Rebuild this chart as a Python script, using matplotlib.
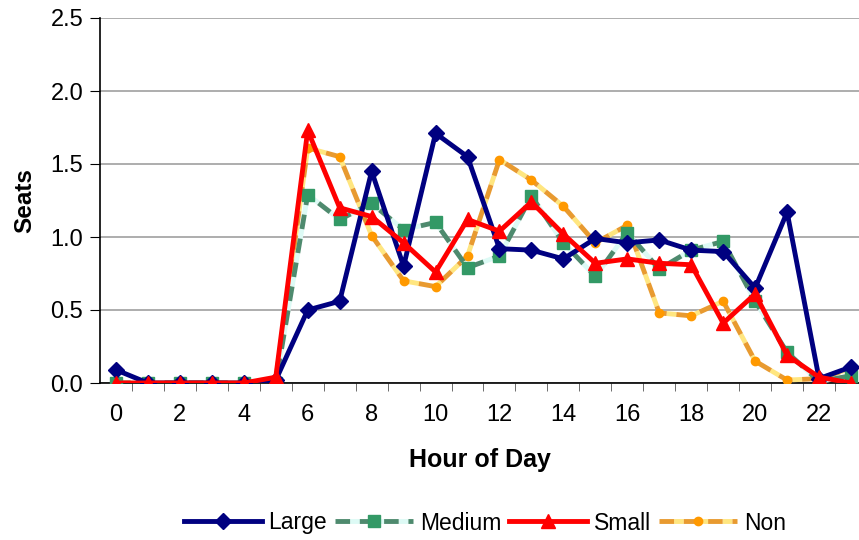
import matplotlib
matplotlib.use("Agg")
import matplotlib.pyplot as plt
import numpy as np

plt.rcParams['font.family'] = ['Liberation Sans', 'DejaVu Sans']

hours = list(range(24))
large = [0.09, 0.0, 0.0, 0.0, 0.0, 0.02, 0.50, 0.56, 1.45, 0.80, 1.71, 1.55, 0.92, 0.91, 0.85, 0.99,
         0.96, 0.98, 0.91, 0.90, 0.65, 1.17, 0.03, 0.11]
medium = [0.0, 0.0, 0.0, 0.0, 0.0, 0.0, 1.29, 1.12, 1.23, 1.05, 1.10, 0.79, 0.87, 1.28, 0.96, 0.73,
          1.03, 0.78, 0.91, 0.97, 0.56, 0.21, 0.01, 0.05]
small = [0.0, 0.0, 0.0, 0.0, 0.0, 0.04, 1.73, 1.20, 1.14, 0.96, 0.76, 1.12, 1.04, 1.24, 1.02, 0.82,
         0.85, 0.82, 0.81, 0.41, 0.61, 0.19, 0.04, 0.0]
non = [0.0, 0.0, 0.0, 0.0, 0.0, 0.02, 1.61, 1.55, 1.01, 0.70, 0.66, 0.87, 1.53, 1.39, 1.21, 0.96,
       1.08, 0.48, 0.46, 0.56, 0.15, 0.02, 0.03, 0.10]
xtick_labels = [str(h) for h in range(0, 23, 2)]

fig = plt.figure(figsize=(8.59, 5.40), dpi=100)
ax = fig.add_axes([100/859, (540-383)/540, 759/859, 365/540])

ax.plot(hours, large, color='#000080', lw=3.5, marker='D', ms=8, label='Large', zorder=5)
ax.plot(hours, medium, color='#4E8A6E', lw=3.5, ls=(0, (3, 2)), gapcolor='#DDFAF5',
        marker='s', ms=8, mfc='#339966', mec='#339966', label='Medium', zorder=4)
ax.plot(hours, small, color='#FF0000', lw=3.5, marker='^', ms=10, label='Small', zorder=6)
ax.plot(hours, non, color='#E89A30', lw=3.5, ls=(0, (3, 2)), gapcolor='#FFE680',
        marker='o', ms=6, mfc='#FF9900', mec='#FF9900', label='Non', zorder=3)

ax.set_xlim(-0.5, 23.25)
ax.set_ylim(0, 2.5)
ax.set_yticks(np.arange(0, 2.51, 0.5))
ax.set_yticklabels([f"{v:.1f}" for v in np.arange(0, 2.51, 0.5)], fontsize=17)
ax.set_xticks(range(0, 23, 2))
ax.set_xticklabels(xtick_labels, fontsize=17)
ax.set_xticks(np.arange(0.5, 23.5, 1), minor=True)
ax.tick_params(axis='x', which='major', length=0, pad=15)
ax.tick_params(axis='x', which='minor', length=6, direction='out', color='#555555')
ax.tick_params(axis='y', length=7, direction='out', pad=5)
ax.yaxis.grid(True, color='#a0a0a0', lw=1.2)
ax.set_axisbelow(True)
for s in ['top', 'right']:
    ax.spines[s].set_visible(False)
ax.spines['left'].set_linewidth(1.2)
ax.spines['bottom'].set_linewidth(1.2)

ax.set_xlabel('Hour of Day', fontsize=18, fontweight='bold', labelpad=16)
ax.set_ylabel('Seats', fontsize=17.5, fontweight='bold', labelpad=10)

fig.legend(loc='center', bbox_to_anchor=(485/859, 1 - 523/540), ncol=4, frameon=False,
           fontsize=16.5, handlelength=3.4, columnspacing=0.35, handletextpad=0.3)

fig.savefig('out.png', dpi=100)
